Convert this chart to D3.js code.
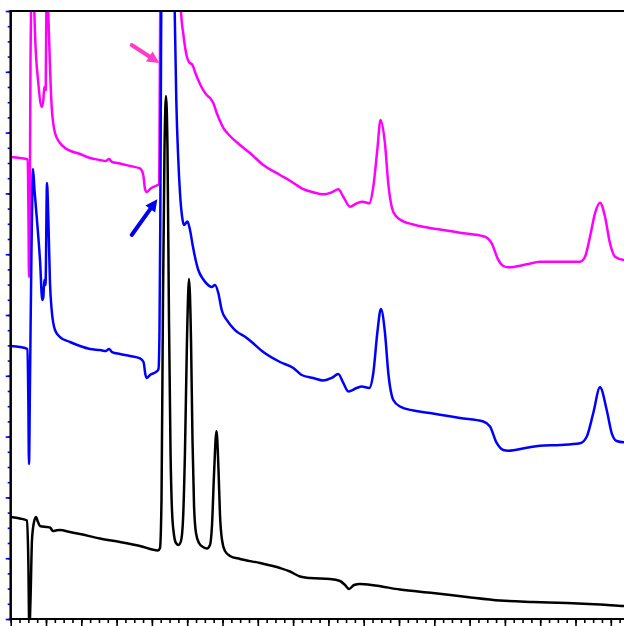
<!DOCTYPE html>
<html>
<head>
<meta charset="utf-8">
<script src="https://cdn.jsdelivr.net/npm/d3@7"></script>
<style>
  html, body { margin: 0; padding: 0; background: #fff; }
  svg { display: block; }
</style>
</head>
<body>
<div id="chart"></div>
<script>
// Retention time (min) vs. detector response (mAU) for three overlaid runs.

// Blank / reference run (black)
const blackTime = [0,0.263,0.462,0.499,0.527,0.561,0.603,0.660,0.717,0.773,0.830,1.028,1.113,1.198,1.283,1.397,1.680,1.963,2.530,3.096,3.663,4.173,
  4.229,4.272,4.314,4.357,4.399,4.442,4.484,4.527,4.569,4.626,4.683,4.754,4.824,
  4.881,4.938,4.994,5.051,5.108,5.150,5.193,5.249,5.334,5.448,5.561,5.646,
  5.703,5.759,5.830,5.887,5.929,5.986,6.071,6.212,6.496,7.062,7.629,7.912,8.195,8.479,9.045,9.329,9.470,9.584,9.725,9.895,10.320,11.028,11.963,12.926,13.861,14.796,15.759,16.694,17.374,18];
const blackSignal = [16.78,16.53,16.20,9.70,-1.8,3.13,12.99,15.95,16.78,15.95,15.30,15.13,15.05,14.47,14.56,14.64,14.31,13.98,13.24,12.66,12.01,11.27,
  11.68,19.57,52.47,77.14,86.02,77.14,49.18,27.80,17.93,13.82,12.50,12.17,12.83,
  16.28,27.80,45.89,55.92,45.89,29.44,18.75,14.14,12.50,11.84,11.60,12.17,
  15.46,23.68,30.92,24.51,17.11,12.99,11.18,10.36,9.87,9.21,8.39,7.81,6.99,6.74,6.58,6.25,5.59,4.93,5.59,5.76,5.51,4.85,4.28,3.62,3.04,2.80,2.63,2.38,2.14,2.0];

// Sample run (blue)
const blueTime = [0,0.263,0.476,0.499,0.518,0.547,0.589,0.632,0.674,0.737,0.830,0.895,0.924,0.952,0.986,1.028,1.065,1.113,1.161,1.255,1.397,1.680,1.963,2.246,2.530,2.700,2.785,2.870,3.096,3.380,3.663,3.762,3.819,3.861,3.946,4.136,4.187,
  4.215,4.238,4.258,4.286,4.442,4.598,4.646,4.691,4.748,4.796,4.853,4.909,5.008,5.079,5.164,5.314,5.448,5.561,5.694,5.788,5.881,5.977,6.119,6.354,6.686,6.827,7.156,7.629,8.006,8.244,8.572,8.856,9.093,9.280,9.422,9.564,9.802,9.943,10.159,
  10.272,10.385,10.487,10.603,10.697,10.839,11.028,11.405,11.878,12.303,12.728,13.388,13.578,13.768,13.955,14.096,14.618,14.994,15.561,16.127,16.317,16.504,16.694,16.884,17.025,17.167,17.374,18];
const blueSignal = [44.90,44.74,44.41,36.02,25.49,39.31,60.69,74.01,70.56,66.12,59.05,52.47,52.96,55.76,54.93,71.71,66.12,55.26,50.82,47.53,46.38,45.56,44.90,44.41,44.24,44.08,44.41,43.91,43.59,43.26,42.85,42.27,40.13,39.64,40.13,40.71,41.12,
  47.53,65.63,91.94,118.26,142.93,118.26,100,85.36,75.49,70.07,66.28,64.80,65.38,63.98,61.18,57.40,55.92,55.10,54.61,54.93,53.62,50.82,49.18,47.53,46.22,45.56,43.91,42.27,41.28,40.13,39.64,39.23,39.64,40.30,38.82,37.42,37.99,38.24,37.99,
  40.46,47.04,50.99,47.04,40.46,36.02,34.95,34.29,33.88,33.47,33.06,32.48,31.66,28.95,27.80,27.68,28.17,28.50,28.62,28.90,29.98,33.88,38.11,34.38,30.59,29.28,29.06,28.95];

// Spiked sample run (magenta)
const magentaTime = [0,0.263,0.482,0.504,0.518,0.541,0.561,0.589,0.632,0.669,0.688,0.782,0.878,0.924,0.952,0.992,1.014,1.037,1.065,1.113,1.161,1.255,1.397,1.538,1.963,2.246,2.530,2.700,2.785,2.870,3.096,3.380,3.663,3.756,3.805,3.853,3.966,4.136,4.207,
  4.218,4.235,4.258,4.513,4.768,4.824,4.890,4.986,5.051,5.150,5.221,5.363,5.552,5.646,5.739,5.836,5.929,6.023,6.184,6.496,6.779,7.156,7.629,7.912,8.054,8.244,8.572,8.856,9.093,9.280,9.422,9.612,9.802,9.972,10.159,
  10.272,10.385,10.476,10.603,10.697,10.839,11.028,11.405,11.878,12.161,12.728,13.436,13.626,13.813,13.955,14.096,14.618,14.994,15.561,16.127,16.269,16.411,16.552,16.694,16.836,16.977,17.119,17.374,18];
const magentaSignal = [75.99,75.82,75.58,65.63,56.25,68.91,91.94,106.74,108.39,100,96.38,88.16,84.21,85.36,87.50,87.01,103.45,104.28,99.67,90.79,84.21,79.93,78.29,77.47,76.48,75.82,75.49,75.33,75.66,75.16,74.92,74.51,74.10,73.03,70.72,70.23,70.81,71.30,71.55,
  82.07,100,126.48,167.60,126.48,100,96.22,92.60,91.61,91.12,89.97,87.99,86.18,85.69,84.87,83.22,81.91,80.76,79.61,77.96,76.64,74.67,73.03,72.09,71.55,70.84,70.18,69.85,70.18,70.67,69.46,67.81,68.37,68.63,68.37,
  71.10,77.14,82.07,78.13,71.55,66.94,65.71,64.88,64.31,64.06,63.54,62.88,61.79,59.05,58.06,57.84,58.34,58.77,58.77,58.77,59.59,62.88,66.73,68.47,66.17,61.79,59.59,59.05,58.88];

// Annotation arrows: [tailTime, tailSignal, tipTime, tipSignal]
const magentaArrow = [3.428, 94.41, 4.210, 91.45];
const blueArrow = [3.428, 63.16, 4.153, 69.03];

// Axis ticks
const timeMajor = d3.range(0, 18.01, 1);
const timeMinor = d3.range(0, 18.01, 0.25);
const signalMajor = d3.range(0, 100.01, 10);
const signalMinor = d3.range(0, 100.01, 2.5);

const W = 624, H = 626;
const x0 = 10.7, yTop = 11, yBottom = 619;

const x = d3.scaleLinear().domain([0, 18]).range([x0, x0 + 35.3 * 18]);
const y = d3.scaleLinear().domain([0, 100]).range([yBottom, yTop]);

const svg = d3.select("#chart").append("svg")
  .attr("width", W).attr("height", H);

svg.append("defs").append("clipPath").attr("id", "plot-clip")
  .append("rect")
  .attr("x", x0).attr("y", yTop)
  .attr("width", x.range()[1] - x0).attr("height", yBottom - yTop);

const line = d3.line()
  .x(d => x(d[0]))
  .y(d => y(d[1]))
  .curve(d3.curveMonotoneX);

const traces = [
  { t: magentaTime, s: magentaSignal, color: "#ff00ff" },
  { t: blueTime, s: blueSignal, color: "#0000ff" },
  { t: blackTime, s: blackSignal, color: "#000000" }
];

const plot = svg.append("g").attr("clip-path", "url(#plot-clip)");
traces.forEach(tr => {
  plot.append("path")
    .datum(tr.t.map((t, i) => [t, tr.s[i]]))
    .attr("fill", "none")
    .attr("stroke", tr.color)
    .attr("stroke-width", 2.5)
    .attr("stroke-linejoin", "round")
    .attr("d", line);
});

// Arrows
function drawArrow(a, color) {
  const x1 = x(a[0]), y1 = y(a[1]), x2 = x(a[2]), y2 = y(a[3]);
  const ang = Math.atan2(y2 - y1, x2 - x1);
  const headLen = 12, headHalf = 6;
  const bx = x2 - headLen * Math.cos(ang), by = y2 - headLen * Math.sin(ang);
  svg.append("line")
    .attr("x1", x1).attr("y1", y1).attr("x2", bx + 2 * Math.cos(ang)).attr("y2", by + 2 * Math.sin(ang))
    .attr("stroke", color).attr("stroke-width", 4).attr("stroke-linecap", "round");
  const px = -Math.sin(ang), py = Math.cos(ang);
  svg.append("path")
    .attr("d", `M${x2},${y2}L${bx + px * headHalf},${by + py * headHalf}L${bx - px * headHalf},${by - py * headHalf}Z`)
    .attr("fill", color);
}
drawArrow(magentaArrow, "#ff3cc8");
drawArrow(blueArrow, "#0000ee");

// Left axis: blue ticks, black spine
const gy = svg.append("g").attr("transform", `translate(${x0},0)`);
gy.call(d3.axisLeft(y).tickValues(signalMinor).tickSize(3).tickFormat(""));
gy.append("g").call(d3.axisLeft(y).tickValues(signalMajor).tickSize(5).tickFormat(""));
gy.selectAll(".tick line").attr("stroke", "#0000ff").attr("stroke-width", 1.6);
gy.selectAll(".domain").remove();

// Bottom axis: black ticks
const gx = svg.append("g").attr("transform", `translate(0,${yBottom})`);
gx.call(d3.axisBottom(x).tickValues(timeMinor).tickSize(4).tickFormat(""));
gx.append("g").call(d3.axisBottom(x).tickValues(timeMajor).tickSize(7).tickFormat(""));
gx.selectAll(".tick line").attr("stroke", "#000").attr("stroke-width", 1.6);
gx.selectAll(".domain").remove();

// Frame
svg.append("line").attr("x1", x0).attr("x2", W).attr("y1", yTop).attr("y2", yTop)
  .attr("stroke", "#000").attr("stroke-width", 2);
svg.append("line").attr("x1", x0).attr("x2", W).attr("y1", yBottom).attr("y2", yBottom)
  .attr("stroke", "#000").attr("stroke-width", 2);
svg.append("line").attr("x1", x0).attr("x2", x0).attr("y1", yTop - 1).attr("y2", yBottom + 1)
  .attr("stroke", "#000").attr("stroke-width", 2.5);
</script>
</body>
</html>
